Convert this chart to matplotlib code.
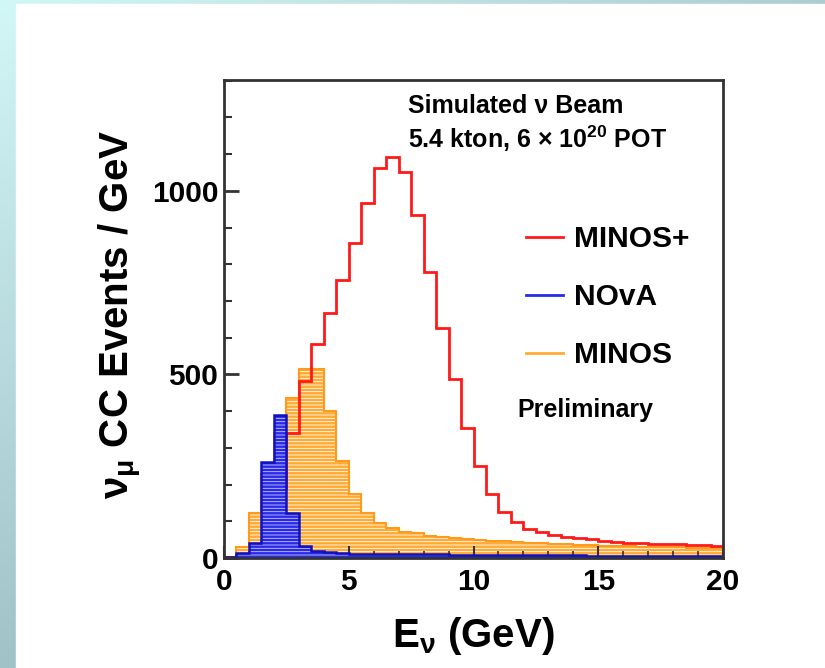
"""
Simulated numu CC spectra for MINOS, NOvA and MINOS+ (ROOT-style reproduction).
"""

import matplotlib.pyplot as plt
import numpy as np
from matplotlib.lines import Line2D
from matplotlib.patches import Rectangle

plt.rcParams["font.family"] = ["Liberation Sans", "DejaVu Sans"]
plt.rcParams["font.weight"] = "bold"
plt.rcParams["mathtext.fontset"] = "custom"
plt.rcParams["mathtext.rm"] = "Liberation Sans:bold"
plt.rcParams["mathtext.it"] = "Liberation Sans:bold"
plt.rcParams["mathtext.bf"] = "Liberation Sans:bold"
plt.rcParams["hatch.linewidth"] = 0.6

# 0.5 GeV bins from 0 to 20 GeV
bin_edges = np.linspace(0.0, 20.0, 41)

minos_plus = [2, 5, 15, 44, 190, 341, 481, 583, 668, 757,
              859, 966, 1061, 1092, 1052, 935, 780, 627, 487, 353,
              251, 174, 126, 97, 79, 70, 63, 56, 54, 51,
              46, 43, 41, 40, 39, 38, 37, 36, 35, 34]
minos = [2, 31, 122, 230, 340, 436, 516, 516, 400, 265,
         174, 122, 96, 81, 72, 67, 61, 57, 54, 51,
         49, 47, 45, 43, 41, 40, 38, 37, 36, 35,
         34, 33, 32, 31, 30, 29, 29, 28, 28, 27]
nova = [3, 13, 42, 262, 390, 123, 34, 20, 15, 13,
        12, 12, 11, 11, 11, 10, 10, 10, 9, 9,
        9, 8, 8, 8, 8, 7, 7, 7, 7, 6,
        6, 6, 6, 5, 5, 5, 5, 5, 5, 5]

labels = ["MINOS+", "NOvA", "MINOS"]
RED = "#ff1a1a"
BLUE = "#2a2ae6"
BLUE_EDGE = "#1010c0"
ORANGE = "#ffaa33"
ORANGE_EDGE = "#ff9a1a"
AXIS_GRAY = "#333333"

fig = plt.figure(figsize=(8.25, 6.68), dpi=100)

# slide background: gradient frame with white panel
bg = fig.add_axes([0, 0, 1, 1], zorder=-10)
xx, yy = np.meshgrid(np.linspace(0, 1, 200), np.linspace(0, 1, 200))
t = np.clip(0.8 * xx + yy, 0, 1)[..., None]
c0 = np.array([210, 247, 247]) / 255.0
c1 = np.array([160, 195, 200]) / 255.0
bg.imshow(c0 * (1 - t) + c1 * t, extent=[0, 1, 0, 1], aspect="auto", origin="upper")
bg.add_patch(Rectangle((16 / 825, 0), 1, 1 - 4 / 668, color="white", zorder=2))
bg.set_xlim(0, 1)
bg.set_ylim(0, 1)
bg.axis("off")

ax = fig.add_axes([224 / 825, 110 / 668, 499 / 825, 478 / 668])
ax.set_facecolor("white")

# MINOS (orange, hatched)
ax.stairs(minos, bin_edges, fill=True, facecolor=ORANGE, edgecolor="white",
          hatch="-----", linewidth=0, zorder=1)
ax.stairs(minos, bin_edges, color=ORANGE_EDGE, linewidth=1.5, zorder=1.1)
# MINOS+ (red line)
ax.stairs(minos_plus, bin_edges, color=RED, linewidth=2.0, zorder=2)
# NOvA (blue, hatched)
ax.stairs(nova, bin_edges, fill=True, facecolor=BLUE, edgecolor="#c8c8ff",
          hatch="-----", linewidth=0, zorder=3)
ax.stairs(nova, bin_edges, color=BLUE_EDGE, linewidth=1.8, zorder=3.1)

ax.set_xlim(0, 20)
ax.set_ylim(0, 1302)
ax.set_xticks([0, 5, 10, 15, 20])
ax.set_xticks(np.arange(0, 21, 1), minor=True)
ax.set_yticks([0, 500, 1000])
ax.set_yticks(np.arange(0, 1301, 100), minor=True)
ax.tick_params(which="both", direction="in", colors=AXIS_GRAY, labelcolor="black",
               labelsize=21.5, top=False, right=False)
ax.tick_params(axis="y", which="major", length=11, width=2, pad=4)
ax.tick_params(axis="y", which="minor", length=6, width=1.5)
ax.tick_params(axis="x", which="major", length=9, width=1.5, pad=7)
ax.tick_params(axis="x", which="minor", length=5, width=1.2)
for side in ["left", "bottom", "top", "right"]:
    ax.spines[side].set_color(AXIS_GRAY)
    ax.spines[side].set_linewidth(2)
    ax.spines[side].set_zorder(5)

ax.set_xlabel(r"E$_{\nu}$ (GeV)", fontsize=29, fontweight="bold")
ax.set_ylabel(r"$\nu_{\mu}$ CC Events / GeV", fontsize=29, fontweight="bold")
ax.xaxis.set_label_coords(0.5, -0.12)
ax.yaxis.set_label_coords(-0.16, 0.51)

ax.text(0.369, 0.931, "Simulated ν Beam", transform=ax.transAxes,
        fontsize=18, fontweight="bold")
ax.text(0.369, 0.858, r"5.4 kton, 6 $\times$ 10$^{20}$ POT", transform=ax.transAxes,
        fontsize=18, fontweight="bold")
ax.text(0.587, 0.295, "Preliminary", transform=ax.transAxes,
        fontsize=18, fontweight="bold")

handles = [Line2D([], [], color=RED, linewidth=2),
           Line2D([], [], color=BLUE, linewidth=2),
           Line2D([], [], color=ORANGE, linewidth=2)]
ax.legend(handles, labels, loc="upper left", bbox_to_anchor=(0.605, 0.696),
          frameon=False, borderpad=0, borderaxespad=0,
          handlelength=1.25, handletextpad=0.35, labelspacing=1.0,
          prop={"weight": "bold", "size": 21.5})

fig.savefig("out.png", dpi=100)
